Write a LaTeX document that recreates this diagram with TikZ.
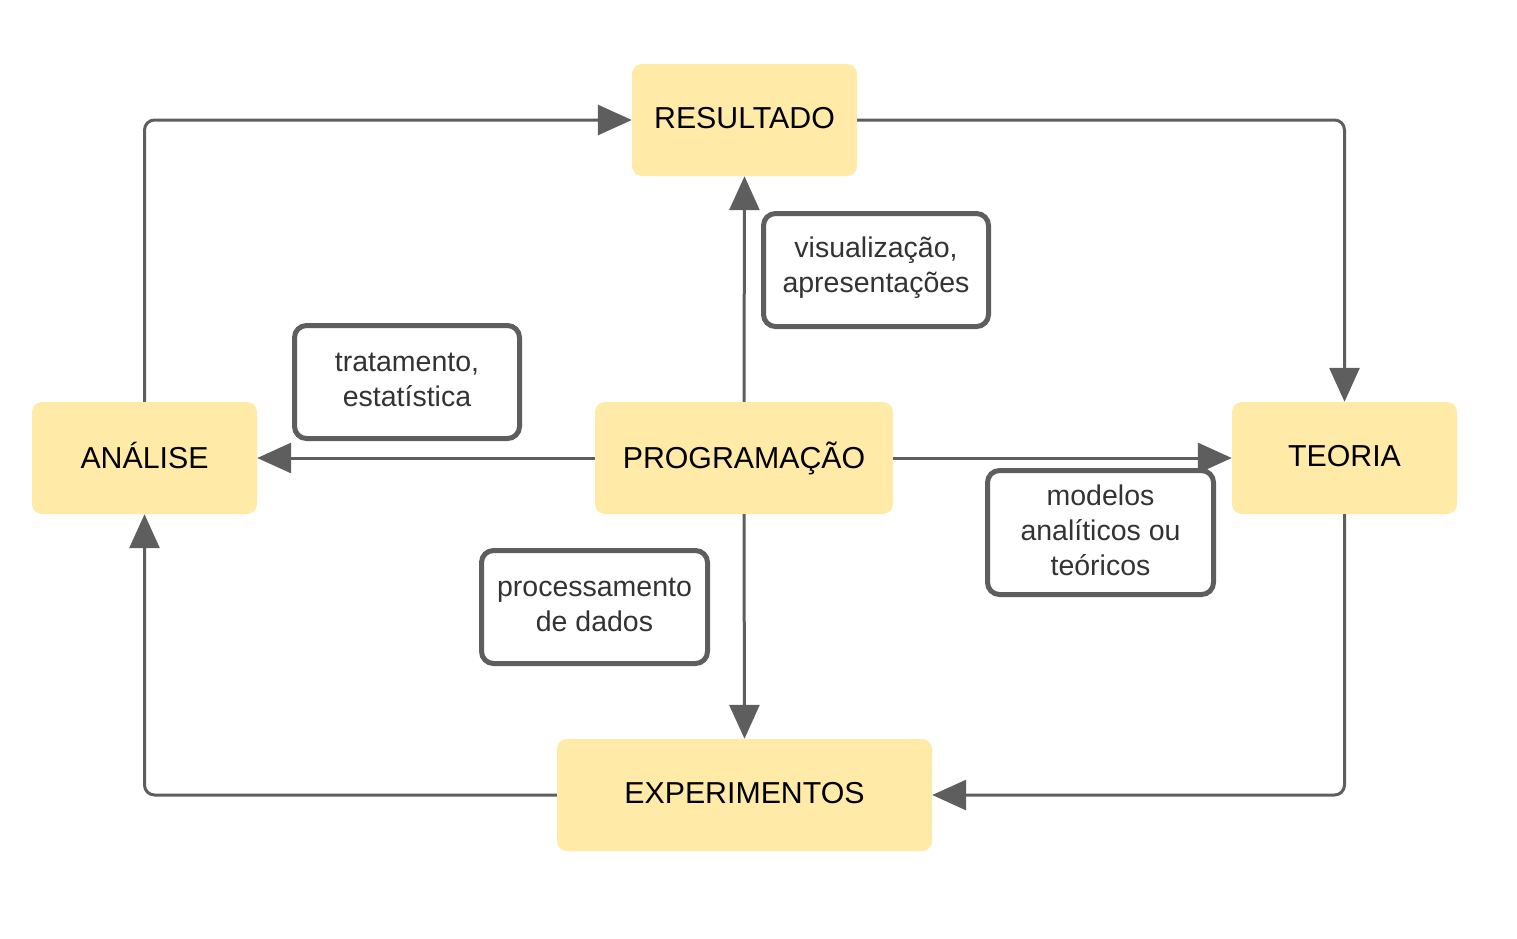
\documentclass[tikz,border=0pt]{standalone}
\usepackage{fontspec}
\setmainfont{Liberation Sans}
\usetikzlibrary{arrows.meta}
\definecolor{boxfill}{HTML}{FFEAA7}
\definecolor{linegray}{HTML}{5E5E5E}
\definecolor{textgray}{HTML}{333333}
\newcommand{\rb}[1]{\raisebox{5pt}{#1}}
\tikzset{
  mainbox/.style={fill=boxfill, rounded corners=10pt, minimum height=112pt, inner sep=0pt, font=\fontsize{30.3}{35}\selectfont, text=black},
  labelbox/.style={fill=white, draw=linegray, line width=5pt, rounded corners=12pt, inner sep=0pt, align=center, font=\fontsize{28.5}{35}\selectfont, text=textgray},
  labeltext/.style={yshift=2pt, align=center, inner sep=0pt, font=\fontsize{28.5}{35}\selectfont, text=textgray},
  conn/.style={draw=linegray, line width=3pt, rounded corners=10pt, -{Triangle[length=34pt,width=30pt]}},
}
\begin{document}
\begin{tikzpicture}[x=1pt,y=-1pt]
\useasboundingbox (0,0) rectangle (1517,938);
\node[mainbox, minimum width=225pt] (res) at (744.5,120) {\rb{RESULTADO}};
\node[mainbox, minimum width=225pt] (ana) at (144.5,458) {\rb{ANÁLISE}};
\node[mainbox, minimum width=298pt] (prog) at (744,458) {\rb{PROGRAMAÇÃO}};
\node[mainbox, minimum width=225pt] (teo) at (1344.5,458) {\rb{TEORIA}};
\node[mainbox, minimum width=375pt] (exp) at (744.5,795) {\rb{EXPERIMENTOS}};

\draw[conn] (ana.north) |- (res.west);
\draw[conn] (res.east) -| (teo.north);
\draw[conn] (prog.north) -- (res.south);
\draw[conn] (prog.west) -- (ana.east);
\draw[conn] (prog.east) -- (teo.west);
\draw[conn] (prog.south) -- (exp.north);
\draw[conn] (teo.south) |- (exp.east);
\draw[conn] (exp.west) -| (ana.south);

\node[labelbox, minimum width=225pt, minimum height=113pt] (lvis) at (876,270) {};
\node[labeltext] (lvist) at (lvis) {visualização,\\apresentações};
\node[labelbox, minimum width=225pt, minimum height=113pt] (ltrat) at (407,382) {};
\node[labeltext] (ltratt) at (ltrat) {tratamento,\\estatística};
\node[labelbox, minimum width=226pt, minimum height=124pt] (lmod) at (1100.5,532.5) {};
\node[labeltext] (lmodt) at (lmod) {modelos\\analíticos ou\\teóricos};
\node[labelbox, minimum width=226pt, minimum height=113pt] (lproc) at (594.5,607) {};
\node[labeltext] (lproct) at (lproc) {processamento\\de dados};
\end{tikzpicture}
\end{document}
